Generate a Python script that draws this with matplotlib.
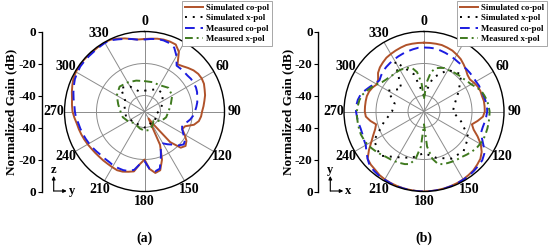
import numpy as np
import matplotlib.pyplot as plt
from matplotlib.lines import Line2D

plt.rcParams['font.family'] = ['Liberation Serif', 'DejaVu Serif']
plt.rcParams['font.weight'] = 'bold'

# angles (deg, clockwise from top)
ang5 = np.arange(0, 360, 5)
ang15 = np.arange(0, 360, 15)

# ---- panel (a), dB ----
a_sim_co = [-4.7, -4.3, -3.8, -3.5, -3.5, -3.8, -7, -14, -13, -11.5, -10, -9,
            -8.7, -9, -10, -10.8, -12, -13, -14, -14.5, -15.5, -18, -23, -24,
            -21, -18, -16.5, -18, -25, -40, -45, -27, -18, -12, -11, -14,
            -20, -17, -12, -11, -10, -9.5, -9.8, -10, -10, -10, -9.8, -9.5,
            -9, -8.5, -8, -7.5, -7, -6, -5, -4.5, -4, -3, -2, -1,
            -0.5, -0.3, -0.2, -0.3, -0.5, -0.3, 0, -0.4, -1.5, -2.7, -4, -4.8]
a_meas_co = [-5, -4.5, -4, -4, -4.5, -6, -10, -15, -15, -15, -15, -14.5,
             -14.5, -14.5, -15, -16, -16.5, -17.5, -18.5, -19.5, -21, -23, -25, -24,
             -22, -19, -18, -20, -23, -25, -27, -26, -20, -13, -12, -14,
             -19, -17, -13, -11.5, -11, -11, -11, -11.5, -11.5, -11.5, -11, -10.5,
             -10, -9.5, -9, -8.5, -8, -7, -6.5, -6, -5, -4, -3, -2,
             -1.5, -1, -1, -1, -1, -0.8, -0.5, -0.8, -2, -3, -4, -5]
a_sim_x = [-37, -36, -34, -34, -37, -39, -41, -43, -42, -41, -42, -40,
           -40, -41, -41, -40, -40, -38, -38, -37, -36, -29, -32, -37]
a_meas_x = [-31, -31, -31, -29, -30, -33, -35, -36, -38, -42, -40, -38,
            -38, -39, -40, -40, -38, -36, -35, -33, -30, -28, -29, -30]

# ---- panel (b), dB ----
b_sim_co = [-7, -7, -7, -7, -7.5, -8, -9, -10, -11.5, -13, -14.5, -15,
            -14, -13, -12.5, -12.5, -12, -12, -12, -13, -16, -19, -17, -13,
            -9, -6, -4, -3, -2, -1.5, -1, -0.7, -0.5, -0.3, -0.2, -0.1,
            0, -0.1, -0.2, -0.3, -0.5, -0.7, -1, -1.5, -2.5, -3, -4, -8,
            -12, -15, -17.5, -19, -16, -13.5, -13, -13, -13, -13, -13.5, -14.5,
            -16, -15, -12.5, -11, -10, -9, -8.5, -8, -7.5, -7, -7, -7]
b_meas_co = [-10, -10, -10, -10.5, -11, -11.5, -12, -12.5, -12.5, -12.5, -12.5, -12.5,
             -12.5, -12, -12, -11.5, -11, -10.5, -10.5, -11, -11.5, -12, -12, -10,
             -7, -4, -2.5, -2, -1.5, -1, -0.8, -0.5, -0.3, -0.2, -0.1, 0,
             0, 0, -0.1, -0.2, -0.3, -0.5, -0.8, -1, -1.5, -2, -4, -6,
             -8, -8.5, -9, -9, -8.5, -8, -7.5, -7.5, -8, -9, -11, -13,
             -15, -16, -15, -14, -13.5, -13, -12.5, -12, -11.5, -11, -10.5, -10]
b_sim_x = [-40, -28, -20, -17, -25, -30, -32, -26, -18, -15, -16, -20,
           -24, -20, -17, -11, -14, -24, -30, -31, -24, -30, -14, -26]
b_meas_x = [-42, -32, -25, -22, -21, -20, -20, -19.5, -19, -18.5, -18, -17,
            -16, -14, -12, -11, -10, -9.5, -9, -9, -9, -9, -9, -9,
            -9.5, -10, -11, -12, -13, -13.5, -14, -14.5, -15, -16, -20, -28,
            -42, -28, -20, -16, -15, -14.5, -14, -13.5, -13, -12, -11, -10,
            -9, -8.5, -8, -8, -8, -8, -8, -8.5, -9, -10, -12, -14,
            -16, -18, -19, -19.5, -20, -20, -20, -20.5, -21, -22, -25, -32]

series_names = ['Simulated co-pol', 'Simulated x-pol', 'Measured co-pol', 'Measured x-pol']
gain_ticks = [0, -20, -40]
r_min = -50

styles = [dict(color='#b0522a', lw=1.4, ls='-'),
          dict(color='black', lw=1.4, ls=(0, (1, 3))),
          dict(color='#1c1ce0', lw=1.4, ls=(0, (5, 3))),
          dict(color='#3f7a1f', lw=1.4, ls=(0, (4, 2, 1, 2)))]

W, H = 550, 250
fig = plt.figure(figsize=(W / 100, H / 100), dpi=100)


def closed(ang, vals):
    th = np.deg2rad(np.append(ang, 360))
    return th, np.append(vals, vals[0])


def panel(cx, cy, rad, curves, letter, axis_x, v_lab, h_lab, leg_right):
    ax = fig.add_axes([(cx - rad) / W, 1 - (cy + rad) / H, 2 * rad / W, 2 * rad / H],
                      projection='polar')
    ax.set_theta_zero_location('N')
    ax.set_theta_direction(-1)
    for (ang, vals), st in zip(curves, styles):
        th, r = closed(ang, vals)
        ax.plot(th, r, **st)
    ax.set_rlim(r_min, 0)
    ax.set_rticks(gain_ticks[1:])
    ax.set_yticklabels([])
    ax.set_thetagrids(np.arange(0, 360, 30), [str(a) for a in range(0, 360, 30)],
                      fontsize=10, fontweight='bold')
    ax.tick_params(axis='x', pad=-3)
    ax.grid(True, color='#8c8c8c', lw=0.7)
    ax.spines['polar'].set_linewidth(1.0)

    handles = [Line2D([], [], **st) for st in styles]
    leg = fig.legend(handles, series_names, loc='upper right',
                     bbox_to_anchor=(leg_right / W, 1 - 1 / H),
                     fontsize=6.3, frameon=True, fancybox=False, edgecolor='#999999',
                     framealpha=1.0, borderpad=0.35, labelspacing=0.25,
                     handlelength=2.1, handletextpad=0.3, borderaxespad=0)
    leg.get_frame().set_linewidth(0.6)
    leg.set_zorder(10)

    # vertical gain axis spanning the diameter
    axl = fig.add_axes([axis_x / W, 1 - (cy + rad) / H, 0.0001, 2 * rad / H])
    for s in ['top', 'right', 'bottom']:
        axl.spines[s].set_visible(False)
    axl.spines['left'].set_linewidth(1.0)
    axl.set_xticks([])
    axl.set_ylim(-(0 - r_min), 0 - r_min)
    pos = [g - r_min for g in gain_ticks] + [-(g - r_min) for g in gain_ticks[::-1]]
    labs = [str(g) for g in gain_ticks] + [str(g) for g in gain_ticks[::-1]]
    axl.set_yticks(pos)
    axl.set_yticklabels(labs, fontsize=9.5, fontweight='bold')
    axl.tick_params(axis='y', length=3, width=0.8, pad=1)
    fig.text((axis_x - 30) / W, 1 - cy / H, 'Normalized Gain (dB)', rotation=90,
             ha='center', va='center', fontsize=9.5, fontweight='bold')

    # coordinate indicator
    ox, oy = axis_x + 12, H - 191
    ap = dict(arrowstyle='-|>', lw=0.8, color='black', mutation_scale=5,
              shrinkA=0, shrinkB=0)
    fig.add_artist(plt.Annotation('', xy=(ox, oy + 15), xytext=(ox, oy),
                                  xycoords='figure pixels', arrowprops=ap))
    fig.add_artist(plt.Annotation('', xy=(ox + 13, oy), xytext=(ox, oy),
                                  xycoords='figure pixels', arrowprops=ap))
    fig.text(ox / W, (oy + 21) / H, v_lab, ha='center', va='center', fontsize=9)
    fig.text((ox + 18) / W, oy / H, h_lab, ha='center', va='center', fontsize=9)

    fig.text(cx / W, 1 - 238 / H, letter, ha='center', va='center', fontsize=10)


panel(144.5, 111.5, 80,
      [(ang5, a_sim_co), (ang15, a_sim_x), (ang5, a_meas_co), (ang15, a_meas_x)],
      '(a)', 41.7, 'z', 'y', 272)
panel(424, 111.5, 80,
      [(ang5, b_sim_co), (ang15, b_sim_x), (ang5, b_meas_co), (ang5, b_meas_x)],
      '(b)', 318.3, 'y', 'x', 547)

fig.savefig('out.png', dpi=100)
